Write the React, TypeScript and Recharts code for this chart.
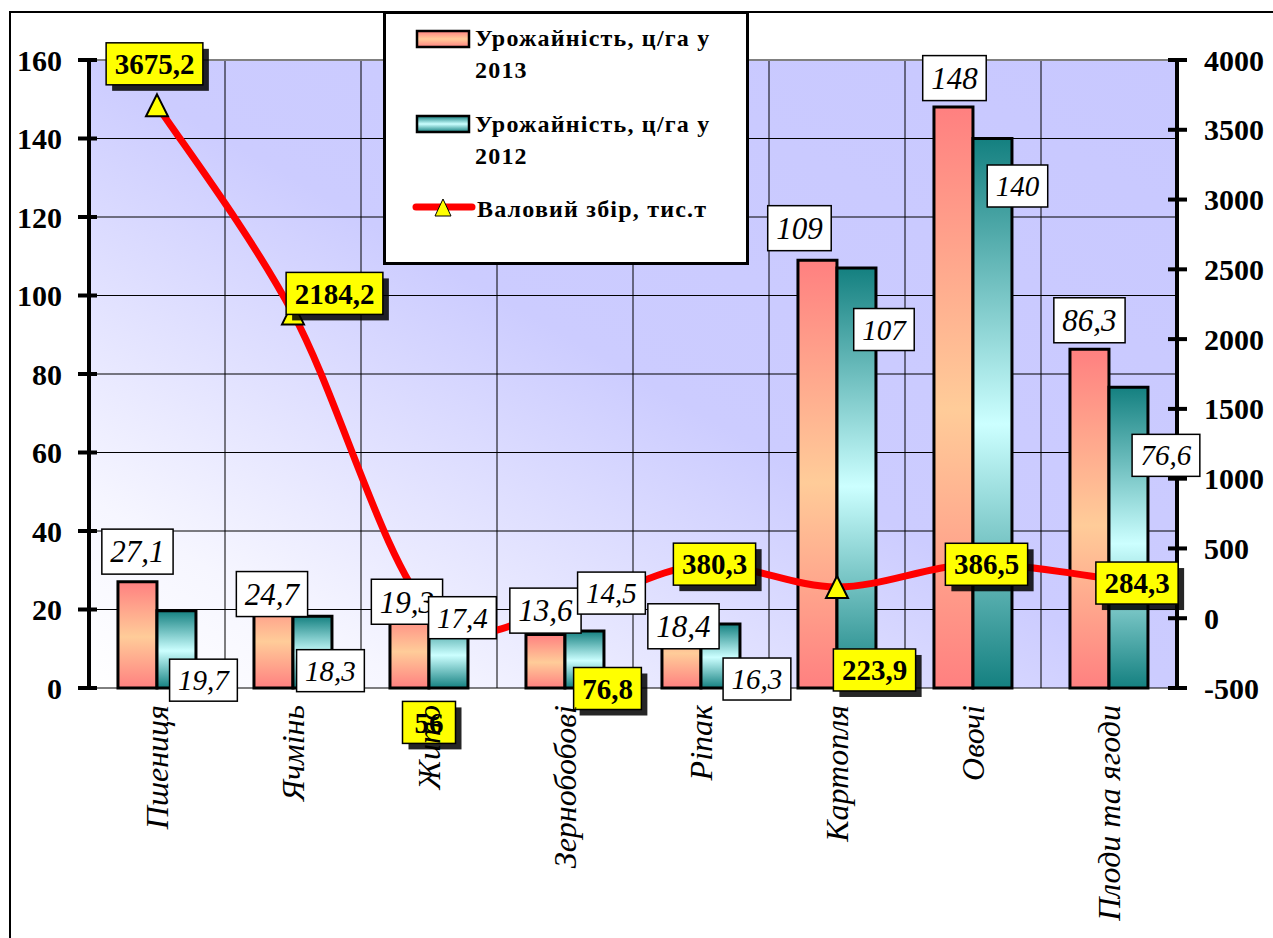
import React from 'react';
import {
  ComposedChart,
  Bar,
  Line,
  XAxis,
  YAxis,
  CartesianGrid,
  LabelList,
  Legend,
  ReferenceLine,
} from 'recharts';

// ---------- data ----------
const categories = ['Пшениця', 'Ячмінь', 'Жито', 'Зернобобові', 'Ріпак', 'Картопля', 'Овочі', 'Плоди та ягоди'];
const yield2013 = [27.1, 24.7, 19.3, 13.6, 18.4, 109, 148, 86.3];
const yield2012 = [19.7, 18.3, 17.4, 14.5, 16.3, 107, 140, 76.6];
const grossHarvest = [3675.2, 2184.2, 56, 76.8, 380.3, 223.9, 386.5, 284.3];
const leftTicks = [0, 20, 40, 60, 80, 100, 120, 140, 160];
const rightTicks = [-500, 0, 500, 1000, 1500, 2000, 2500, 3000, 3500, 4000];
const seriesNames = ['Урожайність, ц/га у 2013', 'Урожайність, ц/га у 2012', 'Валовий збір, тис.т'];

// label nudges (dx, dy) relative to the bar top / line point
const nudge2013 = [[0, -30], [-1.5, 3], [-2.5, -10.5], [0, -24], [2, 10.5], [-18, -32], [1, -29], [0, -29]];
const nudge2012 = [[27, 69.5], [18, 54.5], [14, -2], [27, -38], [36.5, 55], [27.5, 61.5], [25, 47.5], [37.5, 68]];
const nudgeGross = [[-2.5, -41.5], [41.5, -20], [0, 112], [42.5, 81], [13.5, -1], [37.5, 83], [13.5, 0], [28, 4.5]];

const data = categories.map((name, i) => ({
  name,
  y2013: yield2013[i],
  y2012: yield2012[i],
  gross: grossHarvest[i],
}));

const FONT = 'Liberation Serif, DejaVu Serif, Noto Serif, Times New Roman, serif';

const fmt = (v: number) => String(v).replace('.', ',');
const textW = (s: string, fs: number) =>
  s.split('').reduce((w, c) => w + (c === ',' ? 0.25 : 0.5), 0) * fs;

// Excel-like smoothed line (Catmull-Rom)
const excelSmooth = (context: any) => {
  let pts: number[][] = [];
  return {
    areaStart() {},
    areaEnd() {},
    lineStart() {
      pts = [];
    },
    lineEnd() {
      if (!pts.length) return;
      context.moveTo(pts[0][0], pts[0][1]);
      for (let i = 0; i < pts.length - 1; i++) {
        const p0 = pts[i - 1] || pts[i];
        const p1 = pts[i];
        const p2 = pts[i + 1];
        const p3 = pts[i + 2] || p2;
        context.bezierCurveTo(
          p1[0] + (p2[0] - p0[0]) / 6,
          p1[1] + (p2[1] - p0[1]) / 6,
          p2[0] - (p3[0] - p1[0]) / 6,
          p2[1] - (p3[1] - p1[1]) / 6,
          p2[0],
          p2[1]
        );
      }
    },
    point(x: number, y: number) {
      pts.push([x, y]);
    },
  };
};

const getIndex = (props: any, arr: number[]) =>
  typeof props.index === 'number' ? props.index : arr.indexOf(props.value);

const makeBarLabel = (arr: number[], nudges: number[][], fontSize: number, boxH: number) => (props: any) => {
  const vb = props.viewBox || {};
  const x = vb.x ?? props.x;
  const y = vb.y ?? props.y;
  const w = vb.width ?? props.width ?? 0;
  const i = getIndex(props, arr);
  if (i < 0 || x == null) return null;
  const [dx, dy] = nudges[i];
  const cx = x + w / 2 + dx;
  const cy = y + dy;
  const s = fmt(arr[i]);
  const bw = textW(s, fontSize) + 17;
  return (
    <g key={`bl-${fontSize}-${i}`}>
      <rect x={cx - bw / 2} y={cy - boxH / 2} width={bw} height={boxH} fill="#fff" stroke="#000" strokeWidth={1.5} />
      <text x={cx} y={cy} dy="0.35em" textAnchor="middle" fontStyle="italic" fontSize={fontSize} style={{ fontFamily: FONT }} fill="#000">
        {s}
      </text>
    </g>
  );
};

const grossLabel = (props: any) => {
  const vb = props.viewBox || {};
  const x = vb.x ?? props.x;
  const y = vb.y ?? props.y;
  const i = getIndex(props, grossHarvest);
  if (i < 0 || x == null) return null;
  const [dx, dy] = nudgeGross[i];
  const cx = x + dx;
  const cy = y + dy;
  const s = fmt(grossHarvest[i]);
  const fs = 29;
  const bw = Math.max(textW(s, fs) + 17, 53);
  const bh = 42;
  return (
    <g key={`gl-${i}`}>
      <rect x={cx - bw / 2 + 6} y={cy - bh / 2 + 6} width={bw} height={bh} fill="#000" opacity={0.85} />
      <rect x={cx - bw / 2} y={cy - bh / 2} width={bw} height={bh} fill="#ffff00" stroke="#000" strokeWidth={1.5} />
      <text x={cx} y={cy} dy="0.35em" textAnchor="middle" fontWeight="bold" fontSize={fs} style={{ fontFamily: FONT }} fill="#000">
        {s}
      </text>
    </g>
  );
};

const triangleDot = (props: any) => {
  const { cx, cy, index } = props;
  if (cx == null || cy == null) return <g key={`d-${index}`} />;
  return (
    <path
      key={`d-${index}`}
      d={`M${cx},${cy - 11} L${cx + 11},${cy + 11} L${cx - 11},${cy + 11} Z`}
      fill="#ffff00"
      stroke="#000"
      strokeWidth={2}
    />
  );
};

const LeftTick = (props: any) => {
  const { x, y, payload } = props;
  return (
    <g>
      <line x1={x - 11} x2={x + 8} y1={y} y2={y} stroke="#000" strokeWidth={4} />
      <text x={x - 27} y={y} dy="0.35em" textAnchor="end" fontWeight="bold" fontSize={30} style={{ fontFamily: FONT }} fill="#000">
        {payload.value}
      </text>
    </g>
  );
};

const RightTick = (props: any) => {
  const { x, y, payload } = props;
  return (
    <g>
      <line x1={x - 9} x2={x + 10} y1={y} y2={y} stroke="#000" strokeWidth={4} />
      <text x={x + 27} y={y} dy="0.35em" textAnchor="start" fontWeight="bold" fontSize={30} style={{ fontFamily: FONT }} fill="#000">
        {payload.value}
      </text>
    </g>
  );
};

// tick marks at category boundaries (drawn under the data labels)
const BoundaryTick = (props: any) => {
  const { x, y, payload, index } = props;
  const half = payload && typeof payload.offset === 'number' && payload.offset > 0 ? payload.offset : 68;
  const left = x - half;
  const right = x + half;
  return (
    <g>
      <line x1={left} x2={left} y1={y - 7} y2={y + 10} stroke="#000" strokeWidth={4} />
      {index === categories.length - 1 && (
        <line x1={right} x2={right} y1={y - 7} y2={y + 10} stroke="#000" strokeWidth={4} />
      )}
    </g>
  );
};

// category names (drawn on top)
const NameTick = (props: any) => {
  const { x, y, payload } = props;
  return (
    <text
      transform={`translate(${x},${y + 17}) rotate(-90)`}
      dy="0.35em"
      textAnchor="end"
      fontStyle="italic"
      fontSize={32}
      style={{ fontFamily: FONT }}
      fill="#000"
    >
      {payload.value}
    </text>
  );
};

const splitName = (n: string) => {
  const k = n.lastIndexOf(' ');
  return [n.slice(0, k), n.slice(k + 1)];
};

const renderLegend = () => {
  const [a1, a2] = splitName(seriesNames[0]);
  const [b1, b2] = splitName(seriesNames[1]);
  const tstyle = { fontWeight: 'bold' as const, fontSize: 24, style: { fontFamily: FONT, letterSpacing: '1.2px' }, fill: '#000' };
  return (
    <div
      style={{
        width: 366,
        height: 254,
        boxSizing: 'border-box',
        border: '3px solid #000',
        background: '#fff',
      }}
    >
      <svg width={360} height={248} style={{ display: 'block' }}>
        <defs>
          <linearGradient id="lg2013" x1="0" y1="0" x2="0" y2="1">
            <stop offset="0" stopColor="#ff8080" />
            <stop offset="0.5" stopColor="#ffcc99" />
            <stop offset="1" stopColor="#ff8080" />
          </linearGradient>
          <linearGradient id="lg2012" x1="0" y1="0" x2="0" y2="1">
            <stop offset="0" stopColor="#148080" />
            <stop offset="0.5" stopColor="#ccffff" />
            <stop offset="1" stopColor="#148080" />
          </linearGradient>
        </defs>
        <rect x={31} y={17} width={52} height={16} fill="url(#lg2013)" stroke="#000" strokeWidth={2.5} />
        <text x={89} y={32} {...tstyle}>{a1}</text>
        <text x={89} y={64} {...tstyle}>{a2}</text>
        <rect x={31} y={102} width={52} height={16} fill="url(#lg2012)" stroke="#000" strokeWidth={2.5} />
        <text x={89} y={118} {...tstyle}>{b1}</text>
        <text x={89} y={150} {...tstyle}>{b2}</text>
        <line x1={30} x2={86} y1={193} y2={193} stroke="#ff0000" strokeWidth={7} strokeLinecap="round" />
        <path d="M57,185 L65,202 L49,202 Z" fill="#ffff00" stroke="#000" strokeWidth={1} />
        <text x={91} y={203} {...tstyle}>{seriesNames[2]}</text>
      </svg>
    </div>
  );
};

const label2013 = makeBarLabel(yield2013, nudge2013, 31, 45);
const label2012 = makeBarLabel(yield2012, nudge2012, 29, 42);

export default function App() {
  return (
    <div style={{ position: 'absolute', left: 0, top: 0, width: 1273, height: 938, overflow: 'hidden', background: '#fff', fontFamily: FONT }}>
      <div
        style={{
          position: 'absolute',
          left: 9,
          top: 11,
          width: 1400,
          height: 1100,
          borderTop: '2px solid #000',
          borderLeft: '2px solid #000',
        }}
      />
      <div style={{ position: 'absolute', left: 0, top: 0 }}>
        <ComposedChart
          width={1273}
          height={938}
          data={data}
          margin={{ top: 60, right: 0, bottom: 0, left: 0 }}
          barCategoryGap="21.3%"
          barGap={0}
        >
          <defs>
            <linearGradient id="plotBg" x1="0" y1="1" x2="1" y2="0">
              <stop offset="0" stopColor="#ffffff" />
              <stop offset="0.15" stopColor="#f6f6ff" />
              <stop offset="0.5" stopColor="#ccccff" />
              <stop offset="1" stopColor="#c8c8ff" />
            </linearGradient>
            <linearGradient id="g2013" x1="0" y1="0" x2="0" y2="1">
              <stop offset="0" stopColor="#ff8080" />
              <stop offset="0.52" stopColor="#ffcc99" />
              <stop offset="1" stopColor="#ff8080" />
            </linearGradient>
            <linearGradient id="g2012" x1="0" y1="0" x2="0" y2="1">
              <stop offset="0" stopColor="#148080" />
              <stop offset="0.52" stopColor="#ccffff" />
              <stop offset="1" stopColor="#148080" />
            </linearGradient>
          </defs>
          <XAxis
            dataKey="name"
            interval={0}
            height={0}
            tickSize={0}
            tickMargin={0}
            tickLine={false}
            axisLine={{ stroke: '#000', strokeWidth: 5 }}
            tick={<BoundaryTick />}
          />
          <CartesianGrid
            yAxisId="left"
            stroke="#000"
            strokeWidth={1}
            fill="url(#plotBg)"
            fillOpacity={1}
            verticalCoordinatesGenerator={({ offset }: any) =>
              categories.map((_, i) => offset.left + (i * offset.width) / categories.length).concat([offset.left + offset.width])
            }
          />
          <YAxis
            yAxisId="left"
            domain={[0, 160]}
            ticks={leftTicks}
            width={89}
            tickSize={0}
            tickMargin={0}
            tickLine={false}
            axisLine={{ stroke: '#000', strokeWidth: 4 }}
            tick={<LeftTick />}
            interval={0}
          />
          <YAxis
            yAxisId="right"
            orientation="right"
            domain={[-500, 4000]}
            ticks={rightTicks}
            width={96}
            tickSize={0}
            tickMargin={0}
            tickLine={false}
            axisLine={{ stroke: '#000', strokeWidth: 4 }}
            tick={<RightTick />}
            interval={0}
          />
          <ReferenceLine yAxisId="left" y={160} stroke="#808080" strokeWidth={2} />
          <Bar
            yAxisId="left"
            dataKey="y2013"
            name={seriesNames[0]}
            fill="url(#g2013)"
            stroke="#000"
            strokeWidth={3}
            isAnimationActive={false}
          />
          <Bar
            yAxisId="left"
            dataKey="y2012"
            name={seriesNames[1]}
            fill="url(#g2012)"
            stroke="#000"
            strokeWidth={3}
            isAnimationActive={false}
          />
          <Line
            yAxisId="right"
            dataKey="gross"
            name={seriesNames[2]}
            type={excelSmooth as any}
            stroke="#ff0000"
            strokeWidth={7}
            dot={triangleDot}
            activeDot={false}
            isAnimationActive={false}
          >
            <LabelList dataKey="gross" content={grossLabel} />
          </Line>
          <Bar
            xAxisId="lbl"
            yAxisId="left"
            dataKey="y2013"
            fill="none"
            stroke="none"
            legendType="none"
            isAnimationActive={false}
          >
            <LabelList dataKey="y2013" content={label2013} />
          </Bar>
          <Bar
            xAxisId="lbl"
            yAxisId="left"
            dataKey="y2012"
            fill="none"
            stroke="none"
            legendType="none"
            isAnimationActive={false}
          >
            <LabelList dataKey="y2012" content={label2012} />
          </Bar>
          <XAxis
            xAxisId="lbl"
            dataKey="name"
            interval={0}
            height={250}
            tickSize={0}
            tickMargin={0}
            tickLine={false}
            axisLine={false}
            tick={<NameTick />}
          />
          <Legend
            layout="horizontal"
            verticalAlign="middle"
            align="center"
            content={renderLegend}
            wrapperStyle={{ position: 'absolute', left: 383, top: 11, width: 366, height: 254 }}
          />
        </ComposedChart>
      </div>
    </div>
  );
}
